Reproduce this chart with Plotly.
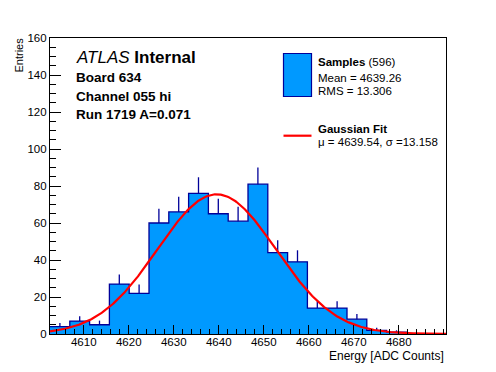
import numpy as np
import plotly.graph_objects as go

# ---- data ----
bin_edges_start = 4602.5
bin_width = 4.4
counts = [4, 7, 5, 27, 22, 60, 66, 76, 65, 61, 81, 44, 39, 14, 14, 8, 2, 1, 0, 0]
fit_mu = 4639.54
fit_sigma = 13.158
fit_amp = 75.5
x_range = [4602.5, 4690.5]
y_range = [0, 160]
x_tick_vals = [4610, 4620, 4630, 4640, 4650, 4660, 4670, 4680]
y_tick_vals = [0, 20, 40, 60, 80, 100, 120, 140, 160]

FILL = "#0099FF"
EDGE = "#000099"
FONT = "Liberation Sans, Arial, Helvetica, sans-serif"

edges = [bin_edges_start + i * bin_width for i in range(len(counts) + 1)]
centers = [bin_edges_start + (i + 0.5) * bin_width for i in range(len(counts))]
errs = [float(np.sqrt(c)) for c in counts]

fig = go.Figure()

# histogram fill + outline as step
fig.add_trace(go.Scatter(
    x=edges, y=counts + [counts[-1]], mode="lines", line=dict(shape="hv", color=EDGE, width=1.3),
    fill="tozeroy", fillcolor=FILL, hoverinfo="skip", showlegend=False))

# error bars (upper part visible)
fig.add_trace(go.Scatter(
    x=centers, y=counts, mode="markers", marker=dict(size=0.1, color=EDGE, opacity=0),
    error_y=dict(type="data", symmetric=False, array=errs, arrayminus=[0] * len(errs),
                 width=0, thickness=1.3, color=EDGE),
    showlegend=False, hoverinfo="skip"))

# gaussian fit curve
xf = np.linspace(x_range[0], x_range[1], 400)
yf = fit_amp * np.exp(-0.5 * ((xf - fit_mu) / fit_sigma) ** 2)
fig.add_trace(go.Scatter(x=xf, y=yf, mode="lines", line=dict(color="#FF0000", width=2.2),
                         showlegend=False, hoverinfo="skip"))

L, R, T, B = 50, 446, 38, 334
def px(x):
    return (x - L) / (R - L)
def py(y):
    return (B - y) / (B - T)

fig.update_layout(
    width=496, height=372,
    margin=dict(l=L, r=496 - R, t=T, b=372 - B, pad=0),
    plot_bgcolor="white", paper_bgcolor="white",
    font=dict(family=FONT, color="black", size=11.5),
    xaxis=dict(range=x_range, tickvals=x_tick_vals, ticks="inside", ticklen=9, tickwidth=1,
               tickcolor="black", showline=True, linecolor="black", linewidth=1.2, mirror=True,
               showgrid=False, zeroline=False, ticklabelstandoff=-3,
               minor=dict(dtick=2, tick0=4600, ticks="inside", ticklen=5, tickcolor="black", showgrid=False),
               tickfont=dict(size=11.5)),
    yaxis=dict(range=y_range, tickvals=y_tick_vals, ticks="inside", ticklen=11, tickwidth=1,
               tickcolor="black", showline=True, linecolor="black", linewidth=1.2, mirror=True,
               showgrid=False, zeroline=False,
               minor=dict(dtick=5, tick0=0, ticks="inside", ticklen=6, tickcolor="black", showgrid=False),
               tickfont=dict(size=11.5)),
)

ann = []
def text(x, y, s, size, anchor="left", **kw):
    ann.append(dict(x=px(x), y=py(y), xref="paper", yref="paper", text=s, showarrow=False,
                    xanchor=anchor, yanchor="middle", font=dict(size=size, family=FONT, color="black"), **kw))

# axis titles
text(446, 356, "Energy [ADC Counts]", 12, anchor="right")
ann.append(dict(x=px(19), y=py(36), xref="paper", yref="paper", text="Entries", showarrow=False,
                textangle=-90, xanchor="center", yanchor="top", font=dict(size=11, family=FONT, color="black")))

# ATLAS labels
text(74, 58, "<i>ATLAS</i> <b>Internal</b>", 17)
text(74, 77, "<b>Board 634</b>", 13.5)
text(74, 96, "<b>Channel 055 hi</b>", 13.5)
text(74, 114, "<b>Run 1719 A=0.071</b>", 13.5)

# legend
text(316, 62, "<b>Samples</b> (596)", 11.5)
text(316, 77.5, "Mean = 4639.26", 11.5)
text(316, 90.5, "RMS = 13.306", 11.5)
text(316, 129, "<b>Gaussian Fit</b>", 11.5)
text(316, 142, "\u03bc = 4639.54, \u03c3 =13.158", 11.5)
fig.update_layout(annotations=ann)

fig.add_shape(type="rect", xref="paper", yref="paper", x0=px(283.5), x1=px(311.5), y0=py(96.5), y1=py(53.5),
              fillcolor=FILL, line=dict(color=EDGE, width=1.2))
fig.add_shape(type="line", xref="paper", yref="paper", x0=px(283.5), x1=px(311.5), y0=py(135.7), y1=py(135.7),
              line=dict(color="#FF0000", width=2.2))

fig.write_html("out.html", config={"displayModeBar": False},
               post_script="document.body.style.margin='0px';")
